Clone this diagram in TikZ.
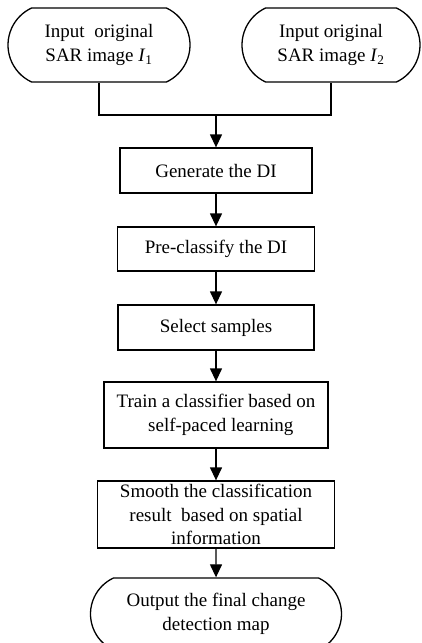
\documentclass[tikz,border=0pt]{standalone}
\usepackage{fontspec}
\setmainfont{Liberation Serif}
\usepackage{tikz}
\usetikzlibrary{shapes,shapes.misc,arrows.meta,positioning}
\tikzstyle{terminal} = [rounded rectangle, rounded rectangle arc length=130, draw=black, line width=1.3pt,
    inner sep=0pt, align=center, font=\fontsize{19}{23.5}\selectfont]
\tikzstyle{process} = [rectangle, draw=black, line width=1.3pt, inner sep=0pt, align=center,
    font=\fontsize{19}{23.5}\selectfont]
\tikzstyle{arrow} = [line width=1.3pt,-{Triangle[length=13pt,width=12pt]}]
\tikzstyle{line} = [line width=1.3pt]

\begin{document}
\begin{tikzpicture}[x=1pt,y=-1pt]
\clip (0,0) rectangle (422,643);
% inputs
\node [terminal, minimum width=182pt, minimum height=74pt] (in1) at (99,45) {Input~~original\\SAR image \textit{I}\textsubscript{1}};
\node [terminal, minimum width=178pt, minimum height=74pt] (in2) at (331,45) {Input original\\SAR image \textit{I}\textsubscript{2}};
\coordinate (join) at (216,115);
% steps
\node [process, minimum width=192pt, minimum height=45pt] (gen) at (216,170.5) {Generate the DI};
\node [process, minimum width=197pt, minimum height=44pt] (pre) at (216,249) {Pre-classify the DI};
\node [process, minimum width=196pt, minimum height=45pt] (sel) at (216,327.5) {Select samples};
\node [process, minimum width=224pt, minimum height=66pt] (train) at (216,415) {Train a classifier based on\\~~self-paced learning};
\node [process, minimum width=237pt, minimum height=67pt] (smooth) at (216,514.5) {Smooth the classification\\result~~based on spatial\\information};
\node [terminal, minimum width=251pt, minimum height=72pt] (out) at (216,614) {Output the final change\\detection map};
% connectors
\draw [line] (in1.south) |- (join) -| (in2.south);
\draw [arrow] (join) -- (gen);
\draw [arrow] (gen) -- (pre);
\draw [arrow] (pre) -- (sel);
\draw [arrow] (sel) -- (train);
\draw [arrow] (train) -- (smooth);
\draw [arrow] (smooth) -- (out);
\end{tikzpicture}
\end{document}
